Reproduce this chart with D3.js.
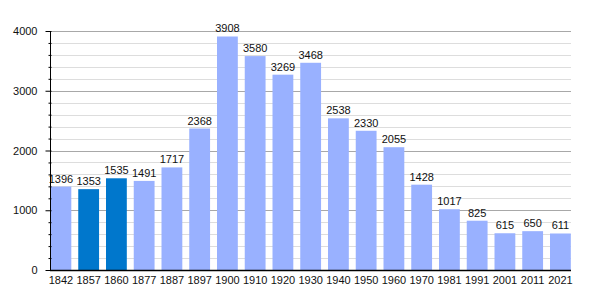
<!DOCTYPE html>
<html><head><meta charset="utf-8">
<script src="https://cdn.jsdelivr.net/npm/d3@7"></script>
<style>body{margin:0;background:#fff}svg{display:block}text{font-family:"Liberation Sans",Arial,sans-serif;fill:#111}</style>
</head><body><svg id="c" width="600" height="300"></svg>
<script>
const years = ["1842","1857","1860","1877","1887","1897","1900","1910","1920","1930","1940","1950","1960","1970","1981","1991","2001","2011","2021"];
const population = [1396,1353,1535,1491,1717,2368,3908,3580,3269,3468,2538,2330,2055,1428,1017,825,615,650,611];
const highlighted = ["1857","1860"];
const majorTicks = [0,1000,2000,3000,4000];
const minorTicks = d3.range(0,4001,200);

const svg = d3.select("#c");
const x = d3.scaleBand().domain(years).range([50.5, 50.5+19*27.75]).paddingInner(0.25).paddingOuter(0.125).align(0);
const y = d3.scaleLinear().domain([0,4000]).range([270,31]);
const gridRight = 571;

// grid
svg.append("g").selectAll("line").data(minorTicks.filter(t=>t%1000!==0)).join("line")
  .attr("x1",50).attr("x2",gridRight).attr("y1",d=>Math.round(y(d))+0.5).attr("y2",d=>Math.round(y(d))+0.5)
  .attr("stroke","#dddddd").attr("stroke-width",1);
svg.append("g").selectAll("line").data(majorTicks.filter(t=>t>0)).join("line")
  .attr("x1",50).attr("x2",gridRight).attr("y1",d=>Math.round(y(d))+0.5).attr("y2",d=>Math.round(y(d))+0.5)
  .attr("stroke","#a8a8a8").attr("stroke-width",1);

// bars
svg.append("g").selectAll("rect").data(years).join("rect")
  .attr("x",d=>x(d)).attr("width",x.bandwidth())
  .attr("y",(d,i)=>y(population[i])).attr("height",(d,i)=>y(0)-y(population[i]))
  .attr("fill",d=>highlighted.includes(d)?"#0077cc":"#99b1ff");

// value labels
svg.append("g").selectAll("text").data(years).join("text")
  .attr("x",d=>x(d)+x.bandwidth()/2).attr("y",(d,i)=>y(population[i])-4)
  .attr("text-anchor","middle").attr("font-size",11).text((d,i)=>population[i]);

// y axis
const yAxis = d3.axisLeft(y).tickValues(majorTicks).tickSize(5).tickPadding(8).tickFormat(d3.format("d"));
const gy = svg.append("g").attr("transform","translate(50.5,0)").call(yAxis);
gy.select(".domain").remove();
gy.selectAll(".tick line").attr("stroke","#000").attr("x2",-5).attr("x1",1);
gy.selectAll(".tick text").attr("font-size",11).attr("font-family","Liberation Sans, Arial, sans-serif").attr("fill","#111");
const yMinor = d3.axisLeft(y).tickValues(minorTicks.filter(t=>t%1000!==0)).tickSize(2).tickFormat("");
const gym = svg.append("g").attr("transform","translate(50.5,0)").call(yMinor);
gym.select(".domain").remove();
gym.selectAll(".tick line").attr("stroke","#000").attr("x1",1);
svg.append("line").attr("x1",50.5).attr("x2",50.5).attr("y1",y(4000)).attr("y2",y(0)).attr("stroke","#000");

// x axis
const xAxis = d3.axisBottom(x).tickSize(0).tickPadding(6);
const gx = svg.append("g").attr("transform","translate(0,270)").call(xAxis);
gx.select(".domain").remove();
gx.selectAll(".tick text").attr("font-size",11).attr("font-family","Liberation Sans, Arial, sans-serif").attr("fill","#111");
svg.append("line").attr("x1",50).attr("x2",gridRight).attr("y1",270.5).attr("y2",270.5).attr("stroke","#000").attr("stroke-width",1.5);
</script></body></html>
